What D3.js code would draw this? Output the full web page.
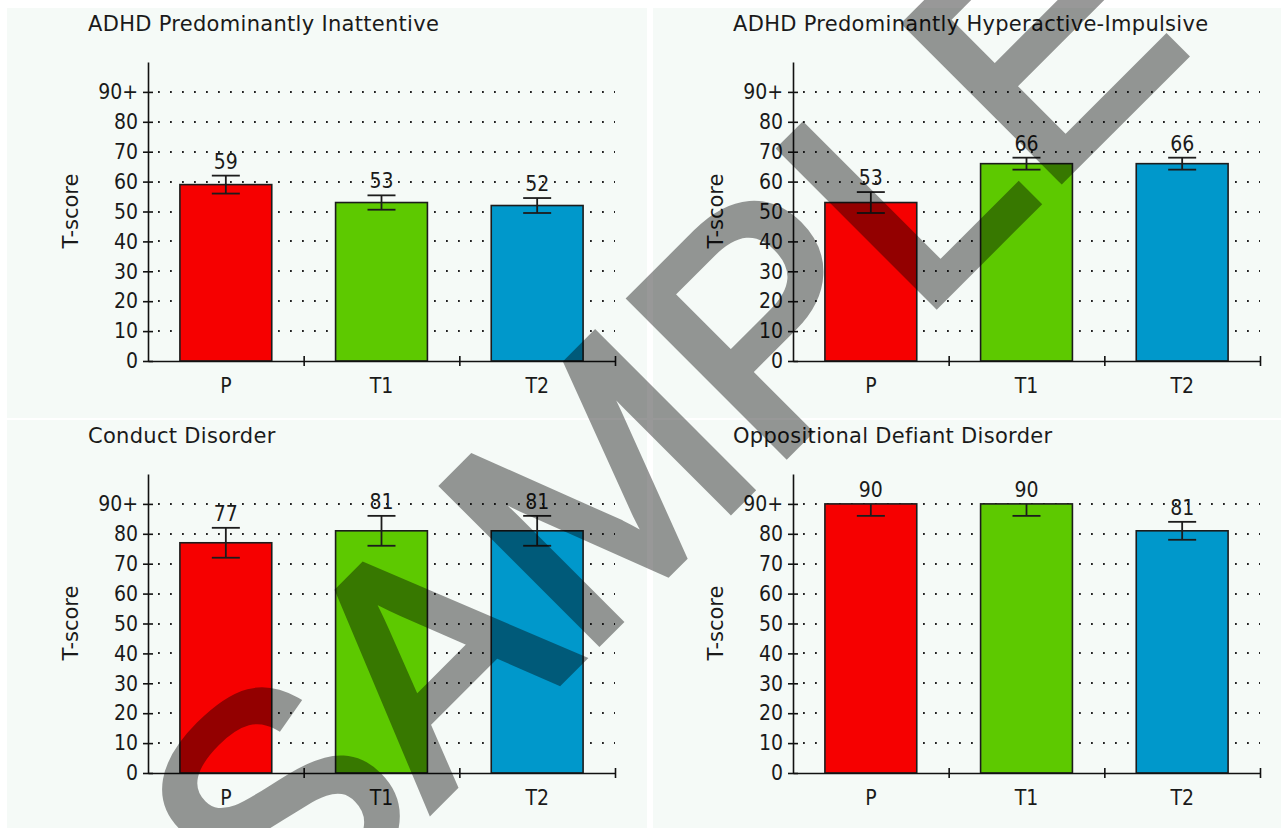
<!DOCTYPE html>
<html>
<head>
<meta charset="utf-8">
<script src="https://cdn.jsdelivr.net/npm/d3@7"></script>
<style>
  body { margin: 0; background: #ffffff; }
  svg { display: block; }
  text { font-family: "DejaVu Sans Condensed", "DejaVu Sans", sans-serif; fill: #1a1a1a; }
</style>
</head>
<body>
<div id="chart"></div>
<script>
// --data--
const panel_titles = [
  "ADHD Predominantly Inattentive",
  "ADHD Predominantly Hyperactive-Impulsive",
  "Conduct Disorder",
  "Oppositional Defiant Disorder"
];
const categories = ["P", "T1", "T2"];
const scores = [
  [59, 53, 52],
  [53, 66, 66],
  [77, 81, 81],
  [90, 90, 81]
];
const errors = [
  [3, 2.4, 2.5],
  [3.5, 2, 2],
  [5, 5, 5],
  [4, 4, 3]
];
const y_ticks = [0, 10, 20, 30, 40, 50, 60, 70, 80, 90];
const y_tick_labels = ["0", "10", "20", "30", "40", "50", "60", "70", "80", "90+"];
const y_label = "T-score";
const score_cap = 90;

const colors = ["#f60000", "#5dc900", "#0098cb"];

// --layout--
const W = 1286, H = 828;
const svg = d3.select("#chart").append("svg")
  .attr("width", W)
  .attr("height", H);

const panel_boxes = [
  {x: 7, y: 8, w: 640, h: 410},
  {x: 653, y: 8, w: 628, h: 410},
  {x: 7, y: 420, w: 640, h: 408},
  {x: 653, y: 420, w: 628, h: 408}
];

svg.selectAll("rect.panel-bg")
  .data(panel_boxes)
  .enter().append("rect")
  .attr("class", "panel-bg")
  .attr("x", d => d.x).attr("y", d => d.y)
  .attr("width", d => d.w).attr("height", d => d.h)
  .attr("fill", "#f5faf7");

const y = d3.scaleLinear().domain([0, 100]).range([361, 62]);
const x = d3.scaleBand().domain(categories).range([148, 615])
  .paddingInner(0.41).paddingOuter(0.205);
const x_edges = d3.scaleLinear().domain([0, categories.length]).range([148, 615]);

function build_panel(i) {
  const col = i % 2, row = Math.floor(i / 2);
  const g = svg.append("g")
    .attr("transform", `translate(${col * 645}, ${row * 412})`);

  // title
  g.append("text")
    .attr("x", 88).attr("y", 31)
    .style("font-family", "'DejaVu Sans', sans-serif")
    .style("font-size", "21px")
    .style("letter-spacing", "0.3px")
    .text(panel_titles[i]);

  // y label
  g.append("text")
    .attr("transform", "translate(78, 211) rotate(-90)")
    .attr("text-anchor", "middle")
    .style("font-family", "'DejaVu Sans', sans-serif")
    .style("font-size", "21px")
    .text(y_label);

  // dotted grid
  g.selectAll("line.grid")
    .data(y_ticks.filter(t => t > 0))
    .enter().append("line")
    .attr("class", "grid")
    .attr("x1", 148 + 10).attr("x2", 615)
    .attr("y1", d => Math.round(y(d))).attr("y2", d => Math.round(y(d)))
    .attr("stroke", "#222")
    .attr("stroke-width", 1.8)
    .attr("stroke-dasharray", "1.8,10.2");

  // bars
  const rows = categories.map((c, j) => ({cat: c, v: scores[i][j], e: errors[i][j], j: j}));

  g.selectAll("rect.bar")
    .data(rows)
    .enter().append("rect")
    .attr("class", "bar")
    .attr("x", d => x(d.cat))
    .attr("y", d => y(d.v))
    .attr("width", x.bandwidth())
    .attr("height", d => y(0) - y(d.v))
    .attr("fill", d => colors[d.j])
    .attr("stroke", "#1c1c1c")
    .attr("stroke-width", 1.6);

  // error bars
  const cap = 14;
  const eb = g.selectAll("g.err").data(rows).enter().append("g").attr("class", "err")
    .attr("stroke", "#1c1c1c").attr("stroke-width", 1.8);
  eb.append("line")
    .attr("x1", d => x(d.cat) + x.bandwidth() / 2)
    .attr("x2", d => x(d.cat) + x.bandwidth() / 2)
    .attr("y1", d => y(Math.min(d.v + d.e, score_cap)))
    .attr("y2", d => y(d.v - d.e));
  eb.filter(d => d.v + d.e <= score_cap).append("line")
    .attr("x1", d => x(d.cat) + x.bandwidth() / 2 - cap)
    .attr("x2", d => x(d.cat) + x.bandwidth() / 2 + cap)
    .attr("y1", d => y(d.v + d.e)).attr("y2", d => y(d.v + d.e));
  eb.append("line")
    .attr("x1", d => x(d.cat) + x.bandwidth() / 2 - cap)
    .attr("x2", d => x(d.cat) + x.bandwidth() / 2 + cap)
    .attr("y1", d => y(d.v - d.e)).attr("y2", d => y(d.v - d.e));

  // value labels
  g.selectAll("text.val")
    .data(rows)
    .enter().append("text")
    .attr("class", "val")
    .attr("x", d => x(d.cat) + x.bandwidth() / 2)
    .attr("y", d => y(Math.min(d.v + d.e, score_cap)) - 7)
    .attr("text-anchor", "middle")
    .style("font-size", "21px")
    .text(d => d.v);

  // y axis
  const y_axis = g.append("g")
    .attr("transform", "translate(148, 0)")
    .call(d3.axisLeft(y).tickValues(y_ticks).tickSize(5).tickSizeOuter(0)
      .tickPadding(5).tickFormat((d, k) => y_tick_labels[k]));
  y_axis.selectAll(".tick line").attr("x1", -5).attr("x2", 5);
  y_axis.selectAll("text").style("font-size", "21px").attr("fill", "#1a1a1a");

  // x axis
  const x_axis = g.append("g")
    .attr("transform", "translate(0, 361)")
    .call(d3.axisBottom(x).tickSize(0).tickSizeOuter(0));
  x_axis.selectAll("text").attr("y", 32).attr("dy", 0)
    .style("font-size", "21px").attr("fill", "#1a1a1a");
  const x_edge_axis = g.append("g")
    .attr("transform", "translate(0, 361)")
    .call(d3.axisBottom(x_edges).tickValues([1, 2, 3]).tickFormat("").tickSize(5).tickSizeOuter(0));
  x_edge_axis.select(".domain").remove();
  x_edge_axis.selectAll(".tick line").attr("y1", -5).attr("y2", 5);

  g.selectAll(".domain, .tick line").attr("stroke", "#111").attr("stroke-width", 1.6);
}

for (let i = 0; i < panel_titles.length; i++) build_panel(i);

// watermark
svg.append("g")
  .attr("opacity", 0.4)
  .append("text")
  .attr("transform", "translate(281, 959) rotate(-45)")
  .style("font-family", "'Liberation Sans', Arial, sans-serif")
  .style("font-size", "318px")
  .style("fill", "#000")
  .style("stroke", "#000")
  .style("stroke-width", 9)
  .text("SAMPLE");
</script>
</body>
</html>
